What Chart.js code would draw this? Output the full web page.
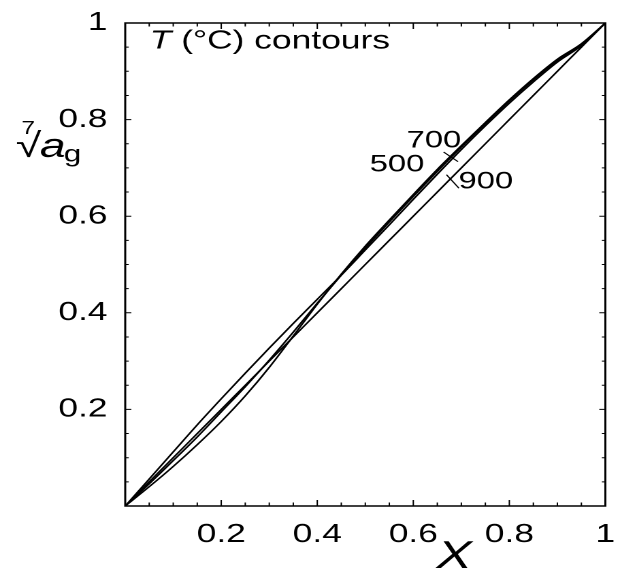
<!DOCTYPE html>
<html>
<head>
<meta charset="utf-8">
<script src="https://cdn.jsdelivr.net/npm/chart.js@4.4.1/dist/chart.umd.min.js"></script>
<style>
  html, body { margin: 0; padding: 0; background: #fff; overflow: hidden; }
  /* the figure is horizontally stretched, so draw narrow and widen it */
  #wrap { width: 457px; height: 573px; transform: scaleX(1.3611); transform-origin: 0 0; }
</style>
</head>
<body>
<div id="wrap"><canvas id="chart"></canvas></div>
<script>
// mole fraction X
var xVals = [0, 0.05, 0.1, 0.15, 0.2, 0.25, 0.3, 0.35, 0.4, 0.45, 0.5, 0.55, 0.6, 0.65, 0.7, 0.75, 0.8, 0.85, 0.9, 0.95, 1];
// seventh root of a_g, one array per temperature contour
var y500 = [0, 0.04, 0.082, 0.127, 0.175, 0.228, 0.287, 0.352, 0.418, 0.48, 0.538, 0.592, 0.645, 0.697, 0.746, 0.794, 0.841, 0.885, 0.925, 0.957, 1];
var y600 = [0, 0.046, 0.094, 0.143, 0.195, 0.247, 0.302, 0.36, 0.42, 0.478, 0.534, 0.588, 0.641, 0.693, 0.743, 0.791, 0.838, 0.882, 0.922, 0.955, 1];
var y700 = [0, 0.056, 0.112, 0.168, 0.222, 0.275, 0.327, 0.378, 0.428, 0.478, 0.53, 0.582, 0.635, 0.687, 0.738, 0.787, 0.834, 0.878, 0.919, 0.953, 1];
var y900 = [0, 0.05, 0.1, 0.15, 0.2, 0.25, 0.3, 0.35, 0.4, 0.45, 0.5, 0.55, 0.6, 0.65, 0.7, 0.75, 0.8, 0.85, 0.9, 0.95, 1];

var majorTicks = [0.2, 0.4, 0.6, 0.8, 1];
var minorTicks = [0.05, 0.1, 0.15, 0.25, 0.3, 0.35, 0.45, 0.5, 0.55, 0.65, 0.7, 0.75, 0.85, 0.9, 0.95];

// contour labels: text, label position, leader line from / to (data units)
var contourLabels = [
  { text: "500", at: [0.566, 0.706], line: null },
  { text: "700", at: [0.643, 0.756], line: [0.663, 0.733, 0.693, 0.713] },
  { text: "900", at: [0.751, 0.671], line: [0.669, 0.686, 0.695, 0.658] }
];

var FONT = '"Liberation Sans", Arial, sans-serif';

function toPoints(ys) {
  return xVals.map(function(x, i) { return { x: x, y: ys[i] }; });
}

function contour(label, ys) {
  return {
    label: label, data: toPoints(ys), showLine: true,
    borderColor: "#000", borderWidth: 1.4, pointRadius: 0,
    cubicInterpolationMode: "monotone", fill: false
  };
}

// frame, inward ticks and the text inside/around the plot
var decor = {
  id: "decor",
  afterDraw: function(chart) {
    var ctx = chart.ctx, a = chart.chartArea;
    var xs = chart.scales.x, ys = chart.scales.y;
    ctx.save();
    ctx.strokeStyle = "#000";
    ctx.lineWidth = 1.5;
    ctx.strokeRect(a.left, a.top, a.right - a.left, a.bottom - a.top);

    ctx.lineWidth = 1;
    function ticks(list, lenV, lenH) {
      list.forEach(function(v) {
        var px = xs.getPixelForValue(v), py = ys.getPixelForValue(v);
        ctx.beginPath();
        ctx.moveTo(px, a.bottom); ctx.lineTo(px, a.bottom - lenV);
        ctx.moveTo(px, a.top); ctx.lineTo(px, a.top + lenV);
        ctx.moveTo(a.left, py); ctx.lineTo(a.left + lenH, py);
        ctx.moveTo(a.right, py); ctx.lineTo(a.right - lenH, py);
        ctx.stroke();
      });
    }
    ticks(majorTicks, 6, 4.5);
    ticks(minorTicks, 3.5, 2.6);

    ctx.fillStyle = "#000";
    ctx.textBaseline = "middle";
    ctx.textAlign = "left";

    // T (°C) contours
    var tx = xs.getPixelForValue(0.051), ty = ys.getPixelForValue(0.962);
    ctx.font = "italic 26px " + FONT;
    ctx.fillText("T", tx, ty);
    var w = ctx.measureText("T ").width;
    ctx.font = "26px " + FONT;
    ctx.fillText("(°C) contours", tx + w, ty);

    // contour labels
    ctx.font = "24px " + FONT;
    ctx.textAlign = "center";
    contourLabels.forEach(function(c) {
      ctx.fillText(c.text, xs.getPixelForValue(c.at[0]), ys.getPixelForValue(c.at[1]));
      if (c.line) {
        ctx.beginPath();
        ctx.moveTo(xs.getPixelForValue(c.line[0]), ys.getPixelForValue(c.line[1]));
        ctx.lineTo(xs.getPixelForValue(c.line[2]), ys.getPixelForValue(c.line[3]));
        ctx.stroke();
      }
    });

    // x axis title
    ctx.font = "italic 39px " + FONT;
    ctx.fillText("X", xs.getPixelForValue(0.685), ys.getPixelForValue(-0.106));

    // y axis title: seventh root of a_g
    ctx.textAlign = "left";
    ctx.textBaseline = "alphabetic";
    ctx.font = "18px " + FONT;
    ctx.fillText("7", xs.getPixelForValue(-0.216), ys.getPixelForValue(0.77));
    ctx.font = "34px " + FONT;
    ctx.fillText("√", xs.getPixelForValue(-0.228), ys.getPixelForValue(0.723));
    ctx.font = "italic 34px " + FONT;
    ctx.fillText("a", xs.getPixelForValue(-0.178), ys.getPixelForValue(0.723));
    ctx.font = "23px " + FONT;
    ctx.fillText("g", xs.getPixelForValue(-0.128), ys.getPixelForValue(0.713));
    ctx.restore();
  }
};

function tickLabel(v) {
  if (Math.abs(v) < 1e-9) return "";
  return String(Math.round(v * 10) / 10);
}

new Chart(document.getElementById("chart"), {
  type: "scatter",
  data: {
    datasets: [
      contour("500", y500),
      contour("600", y600),
      contour("700", y700),
      contour("900", y900)
    ]
  },
  options: {
    responsive: true,
    maintainAspectRatio: false,
    devicePixelRatio: 2,
    animation: false,
    layout: { padding: { left: 0, right: 8, top: 23, bottom: 0 } },
    plugins: { legend: { display: false }, tooltip: { enabled: false } },
    scales: {
      x: {
        type: "linear", min: 0, max: 1,
        afterFit: function(s) { s.height = 67; },
        grid: { display: false },
        border: { display: false },
        ticks: { stepSize: 0.2, padding: 5, color: "#000", font: { family: FONT, size: 26 }, maxRotation: 0, callback: tickLabel }
      },
      y: {
        type: "linear", min: 0, max: 1,
        afterFit: function(s) { s.width = 92; },
        grid: { display: false },
        border: { display: false },
        ticks: { stepSize: 0.2, padding: 5, color: "#000", font: { family: FONT, size: 26 }, callback: tickLabel }
      }
    }
  },
  plugins: [decor]
});
</script>
</body>
</html>
